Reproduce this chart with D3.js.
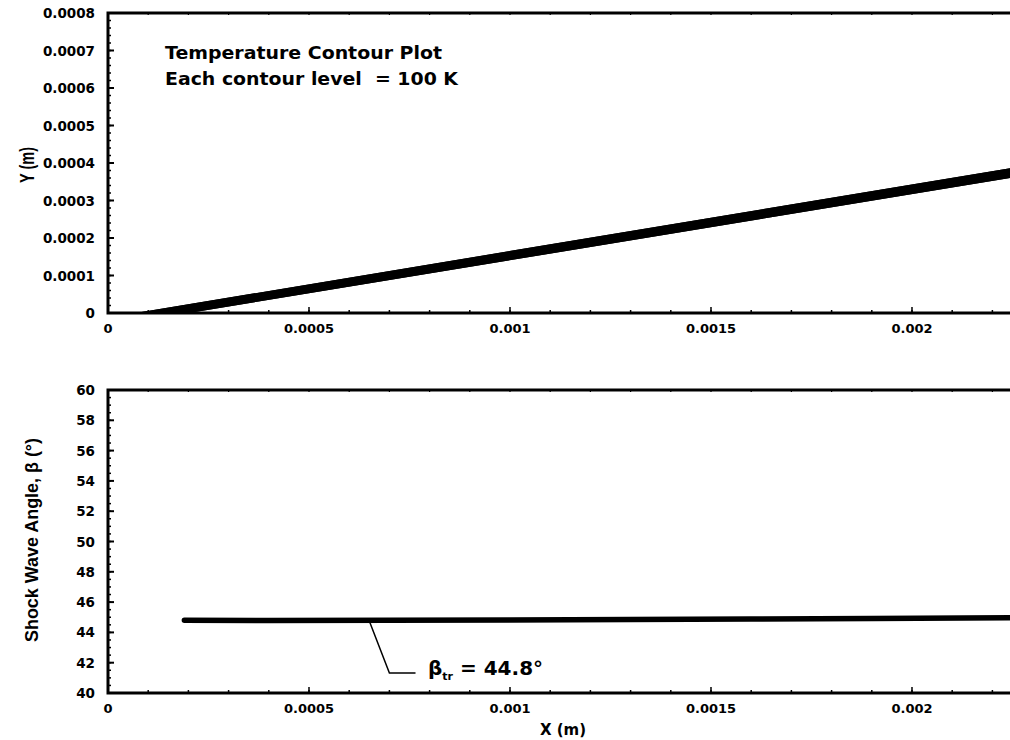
<!DOCTYPE html>
<html><head><meta charset="utf-8">
<script src="https://cdn.jsdelivr.net/npm/d3@7"></script>
<style>
html,body{margin:0;padding:0;background:#fff;overflow:hidden}
text{font-family:"DejaVu Sans",sans-serif;font-weight:bold;fill:#000}
.lib{font-family:"Liberation Sans",Arial,Helvetica,sans-serif}
</style></head>
<body>
<svg id="chart" width="1010" height="740"></svg>
<script>
// ---- data ----
const xTicks = [0, 0.0005, 0.001, 0.0015, 0.002];
const xTickLabels = ["0", "0.0005", "0.001", "0.0015", "0.002"];
const yTopTicks = [0, 0.0001, 0.0002, 0.0003, 0.0004, 0.0005, 0.0006, 0.0007, 0.0008];
const yTopTickLabels = ["0", "0.0001", "0.0002", "0.0003", "0.0004", "0.0005", "0.0006", "0.0007", "0.0008"];
const yBotTicks = [40, 42, 44, 46, 48, 50, 52, 54, 56, 58, 60];
const yBotTickLabels = ["40", "42", "44", "46", "48", "50", "52", "54", "56", "58", "60"];
// temperature contour band (upper, middle, lower contours), [x, y] in m
const contourUpper = [[0.00008, 0], [0.00225, 0.000385]];
const contourMid = [[0.00012, 0], [0.00225, 0.000374]];
const contourLower = [[0.00019, 0], [0.00225, 0.000363]];
// shock wave angle
const betaX = [0.00019, 0.0004, 0.0007, 0.001, 0.0013, 0.0016, 0.0019, 0.00225];
const betaY = [44.8, 44.78, 44.8, 44.82, 44.85, 44.88, 44.92, 44.96];
const betaLabelValue = 44.8;

// ---- layout ----
const svg = d3.select("#chart");
const left = 108, rightEdge = 1010;
const x = d3.scaleLinear().domain([0, 0.0022438]).range([left, rightEdge]);
const yTop = d3.scaleLinear().domain([0, 0.0008]).range([313, 13]);
const yBot = d3.scaleLinear().domain([40, 60]).range([693, 390]);

function frame(y, yTicks, yLabels, minorStep) {
  const [y0, y1] = y.range();
  const g = svg.append("g");
  g.append("path").attr("d", `M${rightEdge + 20},${y1}H${left}V${y0}H${rightEdge + 20}`)
    .attr("fill", "none").attr("stroke", "#000").attr("stroke-width", 3);
  const xMinor = d3.range(0, 0.00225, 0.0001);
  g.selectAll(".xm").data(xMinor).join("line")
    .attr("x1", d => x(d)).attr("x2", d => x(d)).attr("y1", y0).attr("y2", y0 - 3)
    .attr("stroke", "#000").attr("stroke-width", 1.5);
  g.selectAll(".xmt").data(xMinor).join("line")
    .attr("x1", d => x(d)).attr("x2", d => x(d)).attr("y1", y1).attr("y2", y1 + 2)
    .attr("stroke", "#000").attr("stroke-width", 1.2);
  g.selectAll(".xM").data(xTicks).join("line")
    .attr("x1", d => x(d)).attr("x2", d => x(d)).attr("y1", y0).attr("y2", y0 - 6)
    .attr("stroke", "#000").attr("stroke-width", 1.5);
  g.selectAll(".xl").data(xTicks).join("text")
    .attr("x", d => x(d)).attr("y", y0 + 20).attr("text-anchor", "middle")
    .attr("font-size", 13).text((d, i) => xTickLabels[i]);
  const dom = y.domain();
  const yMinor = d3.range(dom[0], dom[1] + minorStep / 2, minorStep);
  g.selectAll(".ym").data(yMinor).join("line")
    .attr("x1", left).attr("x2", left + 3).attr("y1", d => y(d)).attr("y2", d => y(d))
    .attr("stroke", "#000").attr("stroke-width", 1.5);
  g.selectAll(".yM").data(yTicks).join("line")
    .attr("x1", left).attr("x2", left + 6).attr("y1", d => y(d)).attr("y2", d => y(d))
    .attr("stroke", "#000").attr("stroke-width", 2);
  g.selectAll(".yl").data(yTicks).join("text")
    .attr("x", left - 13).attr("y", d => y(d) + 5).attr("text-anchor", "end")
    .attr("font-size", 13.5).text((d, i) => yLabels[i]);
  return g;
}

frame(yTop, yTopTicks, yTopTickLabels, 0.00002);
frame(yBot, yBotTicks, yBotTickLabels, 0.5);

// contour band
const lineTop = d3.line().x(d => x(d[0])).y(d => yTop(d[1]));
const band = contourUpper.concat(contourLower.slice().reverse());
svg.append("path").attr("d", lineTop(band) + "Z").attr("fill", "#000").attr("stroke", "#000").attr("stroke-width", 1.5).attr("stroke-linejoin", "round");
[contourUpper, contourMid, contourLower].forEach(c => {
  svg.append("path").attr("d", lineTop(c)).attr("fill", "none").attr("stroke", "#000").attr("stroke-width", 1.5);
});

// shock angle line
const lineBot = d3.line().x(d => x(d[0])).y(d => yBot(d[1]));
svg.append("path").attr("d", lineBot(betaX.map((v, i) => [v, betaY[i]])))
  .attr("fill", "none").attr("stroke", "#000").attr("stroke-width", 5.5).attr("stroke-linecap", "round");

// leader
const leader = [[0.00065, betaLabelValue - 0.05], [0.0007, 41.32], [0.000765, 41.32]];
svg.append("path").attr("d", lineBot(leader)).attr("fill", "none").attr("stroke", "#000").attr("stroke-width", 1.5);
const lbl = svg.append("text").attr("x", 428).attr("y", yBot(41.2)).attr("font-size", 20);
lbl.append("tspan").text("β");
lbl.append("tspan").attr("font-size", 11).attr("dy", 5).text("tr");
lbl.append("tspan").attr("dy", -5).text(" = " + betaLabelValue + "°");

// annotation
svg.append("text").attr("x", 165).attr("y", 59).attr("font-size", 17)
  .attr("textLength", 277).attr("lengthAdjust", "spacingAndGlyphs").text("Temperature Contour Plot");
svg.append("text").attr("x", 165).attr("y", 85).attr("font-size", 17).attr("xml:space", "preserve")
  .attr("textLength", 293).attr("lengthAdjust", "spacingAndGlyphs").text("Each contour level  = 100 K");

// axis titles
svg.append("text").attr("class", "lib").attr("transform", "translate(34,165) scale(1.4,1) rotate(-90)").attr("text-anchor", "middle").attr("font-size", 14.5).text("Y (m)");
svg.append("text").attr("class", "lib").attr("transform", "translate(38,540) scale(1.15,1) rotate(-90)").attr("text-anchor", "middle").attr("font-size", 16)
  .attr("textLength", 204).attr("lengthAdjust", "spacingAndGlyphs").text("Shock Wave Angle, β (°)");
svg.append("text").attr("x", 563).attr("y", 735).attr("text-anchor", "middle").attr("font-size", 15).text("X (m)");
</script>
</body></html>
